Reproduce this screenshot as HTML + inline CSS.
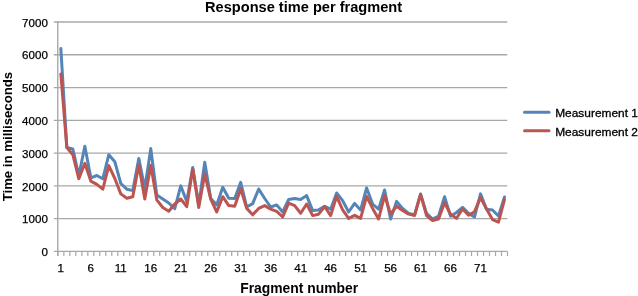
<!DOCTYPE html>
<html><head><meta charset="utf-8"><style>
html,body{margin:0;padding:0;background:#fff;width:638px;height:296px;overflow:hidden}
svg{display:block;will-change:transform}
text{font-family:"Liberation Sans",sans-serif;fill:#000}
.lab{font-size:11.6px;stroke:#000;stroke-width:0.25px}
.leg{font-size:11px;stroke:#000;stroke-width:0.3px}
.title{font-size:14.6px;font-weight:bold}
.axt{font-size:13.2px;font-weight:bold}
.axx{font-size:13.9px;font-weight:bold}
</style></head><body>
<svg width="638" height="296" viewBox="0 0 638 296">
<line x1="53.8" y1="251.40" x2="507.3" y2="251.40" stroke="#a8a8a8" stroke-width="1.4"/>
<text x="48" y="256.0" text-anchor="end" class="lab">0</text>
<line x1="53.8" y1="218.64" x2="507.3" y2="218.64" stroke="#a8a8a8" stroke-width="1.4"/>
<text x="48" y="223.2" text-anchor="end" class="lab" textLength="26">1000</text>
<line x1="53.8" y1="185.87" x2="507.3" y2="185.87" stroke="#a8a8a8" stroke-width="1.4"/>
<text x="48" y="190.5" text-anchor="end" class="lab" textLength="26">2000</text>
<line x1="53.8" y1="153.11" x2="507.3" y2="153.11" stroke="#a8a8a8" stroke-width="1.4"/>
<text x="48" y="157.7" text-anchor="end" class="lab" textLength="26">3000</text>
<line x1="53.8" y1="120.34" x2="507.3" y2="120.34" stroke="#a8a8a8" stroke-width="1.4"/>
<text x="48" y="124.9" text-anchor="end" class="lab" textLength="26">4000</text>
<line x1="53.8" y1="87.58" x2="507.3" y2="87.58" stroke="#a8a8a8" stroke-width="1.4"/>
<text x="48" y="92.2" text-anchor="end" class="lab" textLength="26">5000</text>
<line x1="53.8" y1="54.81" x2="507.3" y2="54.81" stroke="#a8a8a8" stroke-width="1.4"/>
<text x="48" y="59.4" text-anchor="end" class="lab" textLength="26">6000</text>
<line x1="53.8" y1="22.05" x2="507.3" y2="22.05" stroke="#a8a8a8" stroke-width="1.4"/>
<text x="48" y="26.7" text-anchor="end" class="lab" textLength="26">7000</text>
<line x1="57.75" y1="21.35" x2="57.75" y2="256.0" stroke="#a8a8a8" stroke-width="1.4"/>
<line x1="57.85" y1="251.4" x2="57.85" y2="256.0" stroke="#a8a8a8" stroke-width="1.2"/>
<line x1="63.85" y1="251.4" x2="63.85" y2="256.0" stroke="#a8a8a8" stroke-width="1.2"/>
<line x1="69.84" y1="251.4" x2="69.84" y2="256.0" stroke="#a8a8a8" stroke-width="1.2"/>
<line x1="75.84" y1="251.4" x2="75.84" y2="256.0" stroke="#a8a8a8" stroke-width="1.2"/>
<line x1="81.83" y1="251.4" x2="81.83" y2="256.0" stroke="#a8a8a8" stroke-width="1.2"/>
<line x1="87.83" y1="251.4" x2="87.83" y2="256.0" stroke="#a8a8a8" stroke-width="1.2"/>
<line x1="93.82" y1="251.4" x2="93.82" y2="256.0" stroke="#a8a8a8" stroke-width="1.2"/>
<line x1="99.82" y1="251.4" x2="99.82" y2="256.0" stroke="#a8a8a8" stroke-width="1.2"/>
<line x1="105.81" y1="251.4" x2="105.81" y2="256.0" stroke="#a8a8a8" stroke-width="1.2"/>
<line x1="111.81" y1="251.4" x2="111.81" y2="256.0" stroke="#a8a8a8" stroke-width="1.2"/>
<line x1="117.80" y1="251.4" x2="117.80" y2="256.0" stroke="#a8a8a8" stroke-width="1.2"/>
<line x1="123.80" y1="251.4" x2="123.80" y2="256.0" stroke="#a8a8a8" stroke-width="1.2"/>
<line x1="129.79" y1="251.4" x2="129.79" y2="256.0" stroke="#a8a8a8" stroke-width="1.2"/>
<line x1="135.79" y1="251.4" x2="135.79" y2="256.0" stroke="#a8a8a8" stroke-width="1.2"/>
<line x1="141.78" y1="251.4" x2="141.78" y2="256.0" stroke="#a8a8a8" stroke-width="1.2"/>
<line x1="147.78" y1="251.4" x2="147.78" y2="256.0" stroke="#a8a8a8" stroke-width="1.2"/>
<line x1="153.78" y1="251.4" x2="153.78" y2="256.0" stroke="#a8a8a8" stroke-width="1.2"/>
<line x1="159.77" y1="251.4" x2="159.77" y2="256.0" stroke="#a8a8a8" stroke-width="1.2"/>
<line x1="165.77" y1="251.4" x2="165.77" y2="256.0" stroke="#a8a8a8" stroke-width="1.2"/>
<line x1="171.76" y1="251.4" x2="171.76" y2="256.0" stroke="#a8a8a8" stroke-width="1.2"/>
<line x1="177.76" y1="251.4" x2="177.76" y2="256.0" stroke="#a8a8a8" stroke-width="1.2"/>
<line x1="183.75" y1="251.4" x2="183.75" y2="256.0" stroke="#a8a8a8" stroke-width="1.2"/>
<line x1="189.75" y1="251.4" x2="189.75" y2="256.0" stroke="#a8a8a8" stroke-width="1.2"/>
<line x1="195.74" y1="251.4" x2="195.74" y2="256.0" stroke="#a8a8a8" stroke-width="1.2"/>
<line x1="201.74" y1="251.4" x2="201.74" y2="256.0" stroke="#a8a8a8" stroke-width="1.2"/>
<line x1="207.73" y1="251.4" x2="207.73" y2="256.0" stroke="#a8a8a8" stroke-width="1.2"/>
<line x1="213.73" y1="251.4" x2="213.73" y2="256.0" stroke="#a8a8a8" stroke-width="1.2"/>
<line x1="219.72" y1="251.4" x2="219.72" y2="256.0" stroke="#a8a8a8" stroke-width="1.2"/>
<line x1="225.72" y1="251.4" x2="225.72" y2="256.0" stroke="#a8a8a8" stroke-width="1.2"/>
<line x1="231.71" y1="251.4" x2="231.71" y2="256.0" stroke="#a8a8a8" stroke-width="1.2"/>
<line x1="237.71" y1="251.4" x2="237.71" y2="256.0" stroke="#a8a8a8" stroke-width="1.2"/>
<line x1="243.71" y1="251.4" x2="243.71" y2="256.0" stroke="#a8a8a8" stroke-width="1.2"/>
<line x1="249.70" y1="251.4" x2="249.70" y2="256.0" stroke="#a8a8a8" stroke-width="1.2"/>
<line x1="255.70" y1="251.4" x2="255.70" y2="256.0" stroke="#a8a8a8" stroke-width="1.2"/>
<line x1="261.69" y1="251.4" x2="261.69" y2="256.0" stroke="#a8a8a8" stroke-width="1.2"/>
<line x1="267.69" y1="251.4" x2="267.69" y2="256.0" stroke="#a8a8a8" stroke-width="1.2"/>
<line x1="273.68" y1="251.4" x2="273.68" y2="256.0" stroke="#a8a8a8" stroke-width="1.2"/>
<line x1="279.68" y1="251.4" x2="279.68" y2="256.0" stroke="#a8a8a8" stroke-width="1.2"/>
<line x1="285.67" y1="251.4" x2="285.67" y2="256.0" stroke="#a8a8a8" stroke-width="1.2"/>
<line x1="291.67" y1="251.4" x2="291.67" y2="256.0" stroke="#a8a8a8" stroke-width="1.2"/>
<line x1="297.66" y1="251.4" x2="297.66" y2="256.0" stroke="#a8a8a8" stroke-width="1.2"/>
<line x1="303.66" y1="251.4" x2="303.66" y2="256.0" stroke="#a8a8a8" stroke-width="1.2"/>
<line x1="309.65" y1="251.4" x2="309.65" y2="256.0" stroke="#a8a8a8" stroke-width="1.2"/>
<line x1="315.65" y1="251.4" x2="315.65" y2="256.0" stroke="#a8a8a8" stroke-width="1.2"/>
<line x1="321.64" y1="251.4" x2="321.64" y2="256.0" stroke="#a8a8a8" stroke-width="1.2"/>
<line x1="327.64" y1="251.4" x2="327.64" y2="256.0" stroke="#a8a8a8" stroke-width="1.2"/>
<line x1="333.64" y1="251.4" x2="333.64" y2="256.0" stroke="#a8a8a8" stroke-width="1.2"/>
<line x1="339.63" y1="251.4" x2="339.63" y2="256.0" stroke="#a8a8a8" stroke-width="1.2"/>
<line x1="345.63" y1="251.4" x2="345.63" y2="256.0" stroke="#a8a8a8" stroke-width="1.2"/>
<line x1="351.62" y1="251.4" x2="351.62" y2="256.0" stroke="#a8a8a8" stroke-width="1.2"/>
<line x1="357.62" y1="251.4" x2="357.62" y2="256.0" stroke="#a8a8a8" stroke-width="1.2"/>
<line x1="363.61" y1="251.4" x2="363.61" y2="256.0" stroke="#a8a8a8" stroke-width="1.2"/>
<line x1="369.61" y1="251.4" x2="369.61" y2="256.0" stroke="#a8a8a8" stroke-width="1.2"/>
<line x1="375.60" y1="251.4" x2="375.60" y2="256.0" stroke="#a8a8a8" stroke-width="1.2"/>
<line x1="381.60" y1="251.4" x2="381.60" y2="256.0" stroke="#a8a8a8" stroke-width="1.2"/>
<line x1="387.59" y1="251.4" x2="387.59" y2="256.0" stroke="#a8a8a8" stroke-width="1.2"/>
<line x1="393.59" y1="251.4" x2="393.59" y2="256.0" stroke="#a8a8a8" stroke-width="1.2"/>
<line x1="399.58" y1="251.4" x2="399.58" y2="256.0" stroke="#a8a8a8" stroke-width="1.2"/>
<line x1="405.58" y1="251.4" x2="405.58" y2="256.0" stroke="#a8a8a8" stroke-width="1.2"/>
<line x1="411.57" y1="251.4" x2="411.57" y2="256.0" stroke="#a8a8a8" stroke-width="1.2"/>
<line x1="417.57" y1="251.4" x2="417.57" y2="256.0" stroke="#a8a8a8" stroke-width="1.2"/>
<line x1="423.57" y1="251.4" x2="423.57" y2="256.0" stroke="#a8a8a8" stroke-width="1.2"/>
<line x1="429.56" y1="251.4" x2="429.56" y2="256.0" stroke="#a8a8a8" stroke-width="1.2"/>
<line x1="435.56" y1="251.4" x2="435.56" y2="256.0" stroke="#a8a8a8" stroke-width="1.2"/>
<line x1="441.55" y1="251.4" x2="441.55" y2="256.0" stroke="#a8a8a8" stroke-width="1.2"/>
<line x1="447.55" y1="251.4" x2="447.55" y2="256.0" stroke="#a8a8a8" stroke-width="1.2"/>
<line x1="453.54" y1="251.4" x2="453.54" y2="256.0" stroke="#a8a8a8" stroke-width="1.2"/>
<line x1="459.54" y1="251.4" x2="459.54" y2="256.0" stroke="#a8a8a8" stroke-width="1.2"/>
<line x1="465.53" y1="251.4" x2="465.53" y2="256.0" stroke="#a8a8a8" stroke-width="1.2"/>
<line x1="471.53" y1="251.4" x2="471.53" y2="256.0" stroke="#a8a8a8" stroke-width="1.2"/>
<line x1="477.52" y1="251.4" x2="477.52" y2="256.0" stroke="#a8a8a8" stroke-width="1.2"/>
<line x1="483.52" y1="251.4" x2="483.52" y2="256.0" stroke="#a8a8a8" stroke-width="1.2"/>
<line x1="489.51" y1="251.4" x2="489.51" y2="256.0" stroke="#a8a8a8" stroke-width="1.2"/>
<line x1="495.51" y1="251.4" x2="495.51" y2="256.0" stroke="#a8a8a8" stroke-width="1.2"/>
<line x1="501.50" y1="251.4" x2="501.50" y2="256.0" stroke="#a8a8a8" stroke-width="1.2"/>
<line x1="507.50" y1="251.4" x2="507.50" y2="256.0" stroke="#a8a8a8" stroke-width="1.2"/>
<text x="60.85" y="271.6" text-anchor="middle" class="lab">1</text>
<text x="90.82" y="271.6" text-anchor="middle" class="lab">6</text>
<text x="120.80" y="271.6" text-anchor="middle" class="lab">11</text>
<text x="150.78" y="271.6" text-anchor="middle" class="lab">16</text>
<text x="180.75" y="271.6" text-anchor="middle" class="lab">21</text>
<text x="210.73" y="271.6" text-anchor="middle" class="lab">26</text>
<text x="240.71" y="271.6" text-anchor="middle" class="lab">31</text>
<text x="270.68" y="271.6" text-anchor="middle" class="lab">36</text>
<text x="300.66" y="271.6" text-anchor="middle" class="lab">41</text>
<text x="330.64" y="271.6" text-anchor="middle" class="lab">46</text>
<text x="360.61" y="271.6" text-anchor="middle" class="lab">51</text>
<text x="390.59" y="271.6" text-anchor="middle" class="lab">56</text>
<text x="420.57" y="271.6" text-anchor="middle" class="lab">61</text>
<text x="450.54" y="271.6" text-anchor="middle" class="lab">66</text>
<text x="480.52" y="271.6" text-anchor="middle" class="lab">71</text>
<polyline points="60.85,48.50 66.84,147.50 72.84,149.00 78.83,175.50 84.83,146.20 90.82,177.80 96.82,175.50 102.81,178.80 108.81,154.70 114.81,161.70 120.80,183.50 126.80,189.20 132.79,190.60 138.79,158.40 144.78,188.50 150.78,148.60 156.77,195.00 162.77,199.00 168.76,203.00 174.76,208.70 180.75,185.90 186.75,201.50 192.74,167.60 198.74,204.70 204.74,162.20 210.73,198.50 216.73,204.90 222.72,187.30 228.72,198.20 234.71,198.50 240.71,182.30 246.70,207.00 252.70,203.60 258.69,189.00 264.69,198.50 270.68,207.00 276.68,204.90 282.68,212.00 288.67,199.50 294.67,198.60 300.66,199.40 306.66,195.60 312.65,210.60 318.65,209.90 324.64,206.30 330.64,209.20 336.63,193.00 342.63,200.60 348.62,212.00 354.62,203.40 360.61,209.90 366.61,188.00 372.61,204.10 378.60,209.10 384.60,190.00 390.59,219.00 396.59,201.40 402.58,208.40 408.58,213.40 414.57,214.80 420.57,194.00 426.56,213.40 432.56,219.00 438.55,216.20 444.55,196.80 450.54,216.10 456.54,212.50 462.54,207.30 468.53,213.40 474.53,216.90 480.52,193.90 486.52,209.30 492.51,210.00 498.51,216.00 504.50,197.00" fill="none" stroke="#5585b6" stroke-width="3" stroke-linejoin="round" stroke-linecap="round"/>
<polyline points="60.85,74.00 66.84,147.60 72.84,154.70 78.83,178.80 84.83,163.30 90.82,181.10 96.82,184.40 102.81,189.20 108.81,165.60 114.81,178.50 120.80,193.90 126.80,198.20 132.79,196.80 138.79,165.00 144.78,199.10 150.78,165.20 156.77,199.80 162.77,207.50 168.76,211.20 174.76,204.00 180.75,199.00 186.75,206.70 192.74,168.80 198.74,207.60 204.74,174.00 210.73,199.20 216.73,212.00 222.72,196.70 228.72,205.60 234.71,206.30 240.71,188.70 246.70,208.40 252.70,214.80 258.69,208.40 264.69,205.60 270.68,209.10 276.68,211.30 282.68,217.00 288.67,203.10 294.67,205.60 300.66,213.20 306.66,204.00 312.65,215.60 318.65,214.20 324.64,206.50 330.64,215.60 336.63,196.40 342.63,209.90 348.62,218.40 354.62,215.30 360.61,218.40 366.61,196.40 372.61,208.40 378.60,219.00 384.60,195.60 390.59,214.00 396.59,206.30 402.58,210.50 408.58,214.10 414.57,215.50 420.57,194.40 426.56,215.50 432.56,220.50 438.55,219.00 444.55,202.80 450.54,214.20 456.54,218.30 462.54,209.00 468.53,215.20 474.53,211.70 480.52,197.60 486.52,209.00 492.51,219.60 498.51,222.20 504.50,199.60" fill="none" stroke="#bc5552" stroke-width="3" stroke-linejoin="round" stroke-linecap="round"/>
<line x1="524.5" y1="112.2" x2="549" y2="112.2" stroke="#5585b6" stroke-width="3" stroke-linecap="round"/>
<line x1="524.5" y1="130.8" x2="549" y2="130.8" stroke="#bc5552" stroke-width="3" stroke-linecap="round"/>
<text x="555.2" y="117" class="leg" textLength="82.8" lengthAdjust="spacingAndGlyphs">Measurement 1</text>
<text x="555.2" y="135.6" class="leg" textLength="82.8" lengthAdjust="spacingAndGlyphs">Measurement 2</text>
<text x="303.6" y="12.3" text-anchor="middle" class="title">Response time per fragment</text>
<text x="299.2" y="292.7" text-anchor="middle" class="axx">Fragment number</text>
<text transform="translate(12.2,136.6) rotate(-90)" x="0" y="0" text-anchor="middle" class="axt">Time in milliseconds</text>
</svg>
</body></html>
